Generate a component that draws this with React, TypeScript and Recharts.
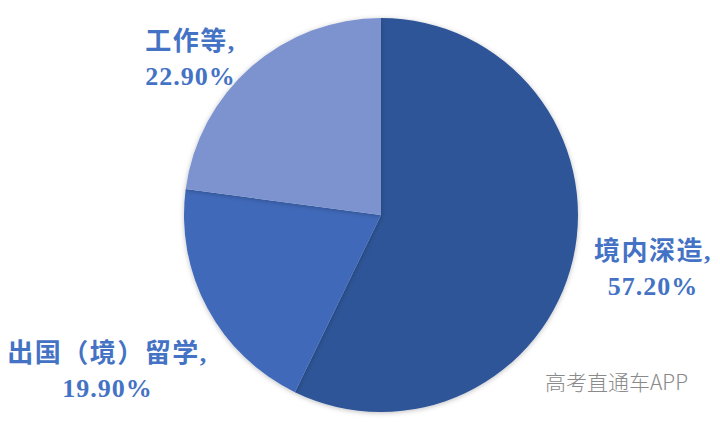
import { PieChart, Pie, Cell } from 'recharts';

const categories = ['境内深造', '出国（境）留学', '工作等'];
const shares = [57.2, 19.9, 22.9];
const sliceColors = ['#2F5597', '#4069B9', '#7B93CF'];

const data = categories.map((name, i) => ({ name, value: shares[i] }));

// where each label block sits, relative to the slice's outer mid point
const labelOffsets = [
    { dx: 80, dy: 1 },
    { dx: -100, dy: 54 },
    { dx: -106, dy: -17 },
];

const RAD = Math.PI / 180;
const labelFont = "'Liberation Serif', 'Times New Roman', 'Noto Sans CJK SC', serif";

const renderLabel = (props: any) => {
    const { cx, cy, midAngle, outerRadius, index, payload } = props;
    const px = cx + outerRadius * Math.cos(-midAngle * RAD);
    const py = cy + outerRadius * Math.sin(-midAngle * RAD);
    const off = labelOffsets[index];
    const x = px + off.dx;
    const y = py + off.dy;
    const name = payload?.name ?? categories[index];
    const value = (payload?.value ?? shares[index]).toFixed(2) + '%';
    const isTop = index === 2;
    return (
        <text
            x={x}
            y={y}
            fill="#4472C4"
            fontSize={26}
            fontWeight="bold"
            fontFamily={labelFont}
            textAnchor={isTop ? 'start' : 'middle'}
        >
            <tspan x={x} dy={0} letterSpacing={1.5}>{name},</tspan>
            <tspan x={x} dy={35} letterSpacing={1}>{value}</tspan>
        </text>
    );
};

export default function App() {
    return (
        <div style={{ position: 'absolute', left: 0, top: 0, width: 720, height: 422, background: '#fff' }}>
            <PieChart width={720} height={422} margin={{ top: 0, right: 0, bottom: 0, left: 0 }}>
                <defs>
                    <filter id="pieShadow" x="-10%" y="-10%" width="120%" height="120%">
                        <feDropShadow dx="0" dy="1" stdDeviation="2.5" floodColor="#000" floodOpacity="0.25" />
                    </filter>
                </defs>
                <Pie
                    data={data}
                    dataKey="value"
                    nameKey="name"
                    cx={381}
                    cy={215}
                    outerRadius={197}
                    startAngle={90}
                    endAngle={-270}
                    stroke="none"
                    labelLine={false}
                    label={renderLabel}
                    isAnimationActive={false}
                    style={{ filter: 'url(#pieShadow)' }}
                >
                    {data.map((d, i) => (
                        <Cell key={d.name} fill={sliceColors[i]} stroke="none" />
                    ))}
                </Pie>
                <text
                    x={545}
                    y={390}
                    fill="#8a8a8a"
                    fontSize={21}
                    fontFamily="'Noto Sans CJK SC', 'Noto Sans', sans-serif"
                    fontWeight={300}
                >
                    高考直通车APP
                </text>
            </PieChart>
        </div>
    );
}
